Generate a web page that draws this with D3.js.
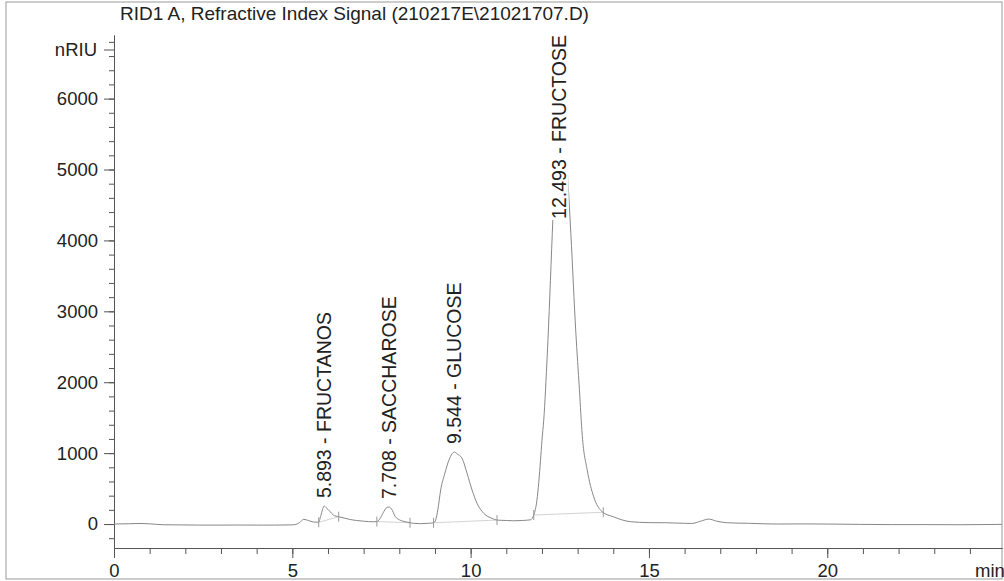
<!DOCTYPE html>
<html>
<head>
<meta charset="utf-8">
<script src="https://cdn.jsdelivr.net/npm/d3@7"></script>
<style>
  body { margin: 0; background: #fff; }
  svg { display: block; font-family: "Liberation Sans", Arial, sans-serif; }
  .axis text { font-size: 18.5px; fill: #222; }
  .axis path, .axis line { stroke: #555; }
</style>
</head>
<body>
<div id="chart"></div>
<script>
// retention time (min) and detector signal (nRIU)
const times = [0, 0.4, 0.73, 1.0, 1.38, 1.8, 2.4, 3.0, 3.5, 4.0, 4.5, 5.0, 5.08, 5.2, 5.32, 5.45, 5.6, 5.74,
  5.8, 5.893, 5.95, 6.05, 6.15, 6.3, 6.45, 6.6, 6.8, 7.0, 7.27, 7.37, 7.45, 7.55, 7.63, 7.708, 7.78, 7.89,
  8.0, 8.17, 8.3, 8.4, 8.6, 8.8, 8.96, 9.02, 9.08, 9.16, 9.28, 9.39, 9.48, 9.544, 9.62, 9.76, 9.9, 10.04,
  10.18, 10.37, 10.6, 10.74, 11.0, 11.2, 11.45, 11.68, 11.77, 11.86, 11.96, 12.0, 12.05, 12.15, 12.29, 12.4,
  12.493, 12.6, 12.7, 12.81, 12.95, 13.05, 13.13, 13.27, 13.45, 13.69, 14.0, 14.48, 15.0, 15.5, 16.0, 16.2,
  16.45, 16.68, 16.9, 17.2, 17.8, 18.6, 19.3, 20.0, 20.9, 21.8, 22.8, 23.75, 24.9];
const signal = [0, 4, 8, 3, -10, -12, -15, -15, -14, -15, -15, -12, -8, 20, 66, 50, 28, 25,
  120, 253, 230, 180, 127, 103, 85, 66, 50, 40, 32, 35, 70, 160, 225, 240, 215, 103,
  60, 32, 18, 10, 5, 10, 18, 56, 200, 480, 720, 900, 990, 1015, 990, 926, 715, 480,
  292, 150, 80, 56, 50, 46, 50, 60, 127, 338, 900, 1180, 1465, 2400, 4100, 5500,
  6500, 6000, 5100, 4100, 2700, 1900, 1250, 760, 385, 173, 103, 33, 20, 18, 10, 8,
  40, 70, 40, 18, 10, 0, 2, 0, -5, -8, -8, -10, -5];

// integrated peaks
const peakTimes = [5.893, 7.708, 9.544, 12.493];
const peakNames = ["FRUCTANOS", "SACCHAROSE", "GLUCOSE", "FRUCTOSE"];
const peakStarts = [5.74, 7.37, 8.96, 11.77];
const peakEnds = [6.3, 8.3, 10.74, 13.72];

const xMajor = [0, 5, 10, 15, 20];
const yMajor = [0, 1000, 2000, 3000, 4000, 5000, 6000];

const W = 1004, H = 581;
const svg = d3.select("#chart").append("svg")
  .attr("width", W)
  .attr("height", H);

// frame
svg.append("rect")
  .attr("x", 6).attr("y", 2)
  .attr("width", 996).attr("height", 577)
  .attr("fill", "none")
  .attr("stroke", "#999");

svg.append("text")
  .attr("x", 120).attr("y", 20)
  .style("font-size", "19px")
  .attr("fill", "#222")
  .text("RID1 A, Refractive Index Signal (210217E\\21021707.D)");

const x = d3.scaleLinear().domain([0, 24.9]).range([114, 1002]);
const y = d3.scaleLinear().domain([-338, 6897]).range([548, 35]);

// X AXIS
svg.append("g")
  .attr("class", "axis")
  .attr("transform", "translate(0,548)")
  .call(d3.axisBottom(x).tickValues(d3.range(0, 25, 1)).tickSize(6).tickSizeOuter(0).tickFormat(""));
svg.append("g")
  .attr("class", "axis")
  .attr("transform", "translate(0,548)")
  .call(d3.axisBottom(x).tickValues(xMajor).tickSize(10).tickSizeOuter(0).tickPadding(6).tickFormat(d3.format("d")));
svg.append("text")
  .attr("x", 975).attr("y", 577)
  .style("font-size", "18.5px")
  .attr("fill", "#222")
  .text("min");

// Y AXIS
svg.append("g")
  .attr("class", "axis")
  .attr("transform", "translate(114,0)")
  .call(d3.axisLeft(y).tickValues(d3.range(-200, 6900, 200)).tickSize(5).tickSizeOuter(0).tickFormat(""));
svg.append("g")
  .attr("class", "axis")
  .attr("transform", "translate(114,0)")
  .call(d3.axisLeft(y).tickValues(yMajor).tickSize(10).tickSizeOuter(0).tickPadding(6).tickFormat(d3.format("d")));
svg.append("line")
  .attr("x1", 104).attr("x2", 114)
  .attr("y1", 50).attr("y2", 50)
  .attr("stroke", "#555");
svg.append("text")
  .attr("x", 97).attr("y", 50).attr("dy", "0.32em")
  .attr("text-anchor", "end")
  .style("font-size", "18.5px")
  .attr("fill", "#222")
  .text("nRIU");

const pts = times.map((t, i) => [t, signal[i]]);
const valueAt = t => {
  const i = d3.bisectLeft(times, t);
  if (i <= 0) return signal[0];
  const t0 = times[i - 1], t1 = times[i];
  return signal[i - 1] + (signal[i] - signal[i - 1]) * (t - t0) / (t1 - t0);
};

// integration baselines
peakStarts.forEach((s, i) => {
  svg.append("line")
    .attr("x1", x(s)).attr("y1", y(valueAt(s)))
    .attr("x2", x(peakEnds[i])).attr("y2", y(valueAt(peakEnds[i])))
    .attr("stroke", "#d4d4d4");
});

const line = d3.line()
  .x(d => x(d[0]))
  .y(d => y(d[1]))
  .curve(d3.curveMonotoneX);

svg.append("path")
  .datum(pts)
  .attr("d", line)
  .attr("fill", "none")
  .attr("stroke", "#888")
  .attr("stroke-width", 1);

// peak start / end markers
peakStarts.concat(peakEnds).forEach(t => {
  const py = y(valueAt(t));
  svg.append("line")
    .attr("x1", x(t)).attr("x2", x(t))
    .attr("y1", py - 5).attr("y2", py + 5)
    .attr("stroke", "#999");
});

// PEAK LABELS
peakTimes.forEach((t, i) => {
  const g = svg.append("g");
  const txt = g.append("text")
    .attr("dy", "0.35em")
    .style("font-size", "19.5px")
    .attr("fill", "#222")
    .text(t.toFixed(3) + " -  " + peakNames[i]);
  const len = txt.node().getComputedTextLength();
  const py = Math.max(y(valueAt(t)) - 8, 35 + len);
  g.insert("rect", "text")
    .attr("x", -1).attr("y", -9)
    .attr("width", len + 2).attr("height", 18)
    .attr("fill", "#fff");
  g.attr("transform", "translate(" + x(t) + "," + py + ") rotate(-90)");
});
</script>
</body>
</html>
